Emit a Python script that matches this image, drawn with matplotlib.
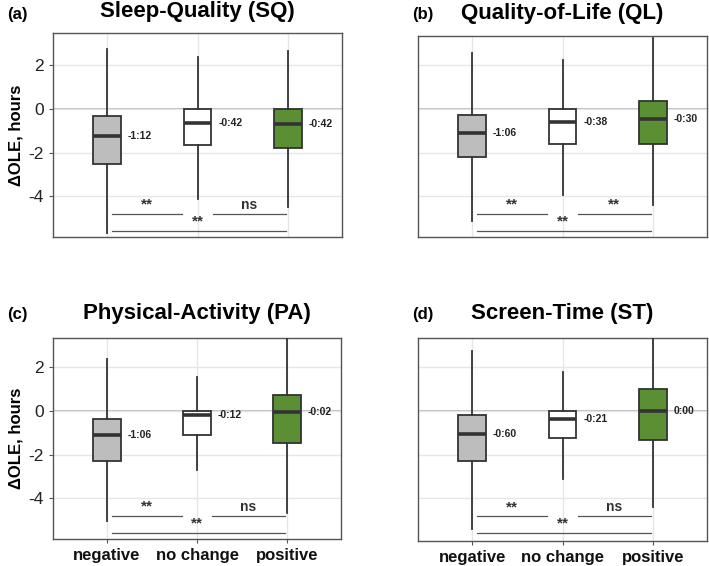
import matplotlib.pyplot as plt

plt.rcParams['font.family'] = ['Liberation Sans', 'DejaVu Sans']

groups = ['negative', 'no change', 'positive']
colors = ['#bdbdbd', '#ffffff', '#5b8f34']

titles = ['Sleep-Quality (SQ)', 'Quality-of-Life (QL)', 'Physical-Activity (PA)', 'Screen-Time (ST)']
tags = ['(a)', '(b)', '(c)', '(d)']

# box stats per panel: [whislo, q1, med, q3, whishi] for negative, no change, positive
sq = [[-5.7, -2.53, -1.23, -0.33, 2.75], [-4.13, -1.66, -0.65, 0.0, 2.4], [-4.5, -1.8, -0.68, 0.0, 2.68]]
ql = [[-5.13, -2.2, -1.1, -0.28, 2.57], [-3.95, -1.6, -0.6, 0.0, 2.25], [-4.4, -1.6, -0.47, 0.37, 3.25]]
pa = [[-5.05, -2.29, -1.1, -0.37, 2.39], [-2.7, -1.1, -0.2, 0.0, 1.56], [-4.7, -1.47, -0.03, 0.73, 3.6]]
st = [[-5.4, -2.28, -1.05, -0.18, 2.75], [-3.1, -1.24, -0.35, 0.0, 1.8], [-4.4, -1.3, 0.0, 1.0, 3.6]]
panels = [sq, ql, pa, st]

median_labels = [['-1:12', '-0:42', '-0:42'],
                 ['-1:06', '-0:38', '-0:30'],
                 ['-1:06', '-0:12', '-0:02'],
                 ['-0:60', '-0:21', '0:00']]
sig_labels = [['**', 'ns', '**'],
              ['**', '**', '**'],
              ['**', 'ns', '**'],
              ['**', 'ns', '**']]
ylims = [(-5.87, 3.49), (-5.87, 3.35), (-5.87, 3.35), (-5.95, 3.35)]

# axes edges in pixels (left, bottom, right, top), title centre y and tag x
W, H = 709, 566
rects = [(53, 237, 342, 33), (418, 237, 707, 36), (53, 539, 341, 338), (418, 541, 707, 338)]
title_y = [12, 13, 313, 313]
tag_x = [7, 412, 7, 412]

fig = plt.figure(figsize=(W / 100, H / 100), dpi=100)

for i, data in enumerate(panels):
    x0, yb, x1, yt = rects[i]
    ax = fig.add_axes([x0 / W, 1 - yb / H, (x1 - x0) / W, (yb - yt) / H])
    ax.set_xlim(0.4, 3.6)
    ax.set_ylim(*ylims[i])
    ax.set_yticks([-4, -2, 0, 2])
    ax.set_xticks([1, 2, 3])
    ax.grid(True, color='#e6e6e6', linewidth=1.0, zorder=0)
    ax.axhline(0, color='#b0b0b0', linewidth=1.2, zorder=1)

    stats = []
    for j, (lo, q1, med, q3, hi) in enumerate(data):
        stats.append({'whislo': lo, 'q1': q1, 'med': med, 'q3': q3, 'whishi': hi, 'fliers': []})
    bp = ax.bxp(stats, positions=[1, 2, 3], widths=0.31, patch_artist=True, showcaps=False,
                boxprops=dict(edgecolor='#333333', linewidth=1.3),
                whiskerprops=dict(color='#333333', linewidth=1.3),
                medianprops=dict(color='#333333', linewidth=2.6),
                manage_ticks=False, zorder=3)
    for patch, c in zip(bp['boxes'], colors):
        patch.set_facecolor(c)

    for j, lab in enumerate(median_labels[i]):
        ax.text(j + 1 + 0.23, data[j][2], lab, fontsize=7.5, fontweight='bold',
                va='center', ha='left', color='#222222', zorder=4)

    # significance brackets
    ax.plot([1.05, 1.83], [-4.8, -4.8], color='#555555', linewidth=0.9, zorder=4)
    ax.plot([2.17, 2.98], [-4.8, -4.8], color='#555555', linewidth=0.9, zorder=4)
    ax.plot([1.05, 2.98], [-5.58, -5.58], color='#555555', linewidth=0.9, zorder=4)
    for (xt, yt_, s) in zip([1.44, 2.57, 2.0], [-4.4, -4.4, -5.15], sig_labels[i]):
        fs = 10 if s == 'ns' else 11
        ax.text(xt, yt_, s, fontsize=fs, fontweight='bold', ha='center', va='center',
                color='#333333', zorder=4)

    for sp in ax.spines.values():
        sp.set_color('#555555')
        sp.set_linewidth(1.0)
    ax.tick_params(axis='both', length=3, color='#555555', width=0.8)

    if i % 2 == 0:
        ax.set_yticklabels(['-4', '-2', '0', '2'], fontsize=12.5, color='#222222')
        ax.set_ylabel('ΔOLE, hours', fontsize=12, fontweight='bold', labelpad=4)
    else:
        ax.set_yticklabels([])
        ax.tick_params(axis='y', length=0)
    if i >= 2:
        ax.set_xticklabels(groups, fontsize=12, fontweight='bold', color='#111111')
    else:
        ax.set_xticklabels([])
        ax.tick_params(axis='x', length=0)

    fig.text((x0 + x1) / 2 / W, 1 - title_y[i] / H, titles[i], fontsize=16, fontweight='bold',
             ha='center', va='center')
    fig.text(tag_x[i] / W, 1 - (title_y[i] + 2) / H, tags[i], fontsize=12, fontweight='bold',
             ha='left', va='center')

fig.savefig('out.png', dpi=100)
